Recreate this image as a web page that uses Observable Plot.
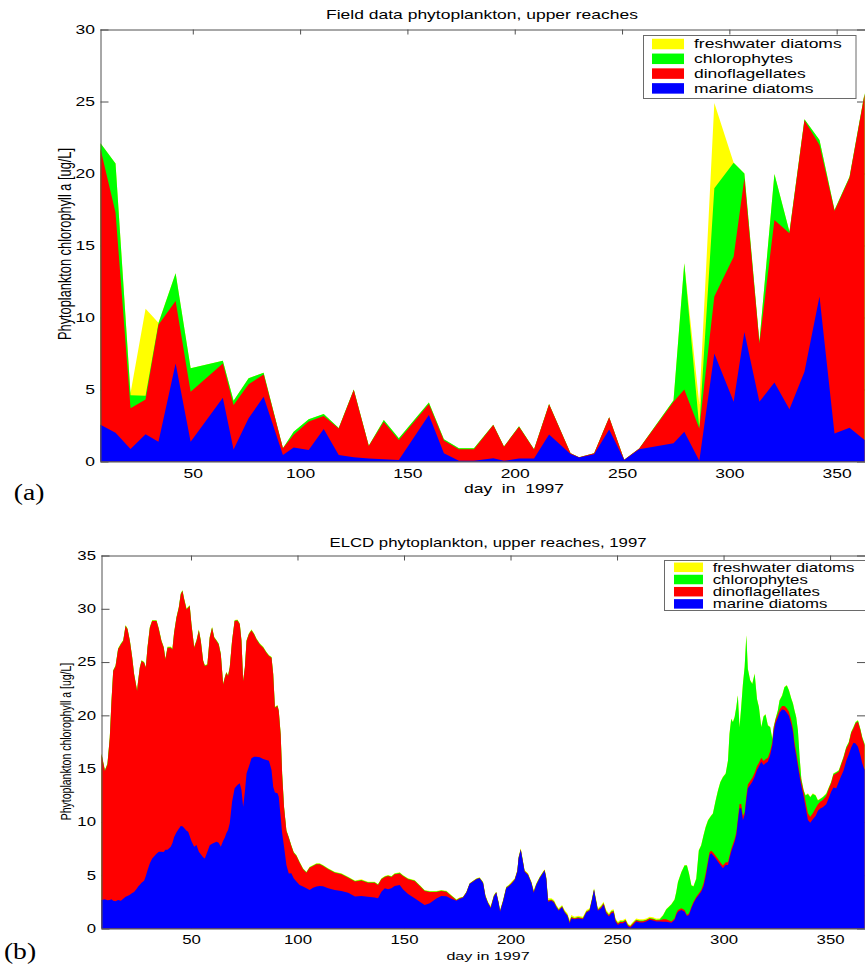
<!DOCTYPE html>
<html><head><meta charset="utf-8">
<script src="https://cdn.jsdelivr.net/npm/d3@7"></script>
<script src="https://cdn.jsdelivr.net/npm/@observablehq/plot@0.6"></script>
<style>
html,body{margin:0;padding:0;background:#fff;}
#fig{position:relative;width:865px;height:965px;overflow:hidden;background:#fff;}
#fig svg{position:absolute;left:0;}
</style></head><body><div id="fig"></div>
<script>
// ---------- series / labels ----------
const seriesNames = ["freshwater diatoms", "chlorophytes", "dinoflagellates", "marine diatoms"];
const seriesColors = ["#ffff00", "#00ff00", "#ff0000", "#0000ff"];
const dayTicks = [50, 100, 150, 200, 250, 300, 350];
const fieldTicksY = [0, 5, 10, 15, 20, 25, 30];
const elcdTicksY = [0, 5, 10, 15, 20, 25, 30, 35];

// ---------- (a) field data ----------
const fieldDays = [7, 14, 21, 28, 34, 42, 49, 64, 69, 76, 83, 92, 97, 104, 111, 118, 125, 132, 139, 146, 160, 167, 174, 181, 190, 195, 202, 209, 216, 226, 230, 237, 244, 251, 258, 274, 279, 286, 293, 302, 307, 314, 321, 328, 335, 342, 349, 356, 363];
const fieldMarine = [2.55, 2.0, 0.87, 1.9, 1.38, 6.8, 1.38, 4.43, 0.84, 3.0, 4.5, 0.45, 0.98, 0.8, 2.26, 0.45, 0.29, 0.2, 0.15, 0.11, 3.23, 0.57, 0.05, 0.05, 0.22, 0.05, 0.2, 0.2, 1.88, 0.52, 0.27, 0.5, 2.23, 0.1, 0.85, 1.26, 2.07, 0.05, 7.5, 4.15, 9.0, 4.15, 5.48, 3.62, 6.24, 11.45, 1.95, 2.35, 1.5];
const fieldDino = [19.15, 15.3, 2.83, 2.4, 8.12, 4.35, 3.47, 2.37, 3.08, 2.36, 1.55, 0.47, 0.87, 1.97, 0.9, 1.85, 4.68, 0.88, 2.61, 1.39, 0.77, 0.88, 0.8, 0.8, 2.31, 0.98, 2.22, 0.64, 2.09, 0.05, 0.02, 0.07, 0.84, 0.02, 0.05, 2.89, 2.93, 2.25, 3.95, 10.07, 10.67, 4.05, 11.29, 12.23, 17.46, 10.53, 15.45, 17.35, 24.0];
const fieldChloro = [0.4, 3.4, 0.9, 0.27, 0.1, 1.92, 1.62, 0.2, 0.3, 0.42, 0.12, 0, 0.22, 0.16, 0.14, 0.02, 0.03, 0.02, 0.12, 0.11, 0.1, 0.1, 0.07, 0.07, 0.02, 0.02, 0.02, 0.01, 0.02, 0, 0, 0, 0, 0, 0, 0.1, 8.76, 0.05, 7.52, 6.53, 0.33, 0.12, 3.2, 0.11, 0.06, 0.35, 0.07, 0.08, 0.07];
const fieldFresh = [0, 0, 0.15, 6.03, 0.04, 0, 0, 0, 0, 0, 0, 0, 0, 0, 0, 0, 0, 0, 0, 0, 0, 0, 0, 0, 0, 0, 0, 0, 0, 0, 0, 0, 0, 0, 0, 0, 0, 1.65, 5.93, 0, 0, 0, 0, 0, 0, 0, 0, 0, 0];

// ---------- (b) ELCD model ----------
const elcdDays = [
 8.0, 9.6, 10.8, 11.9, 12.7, 13.5, 14.6, 15.8, 17.1, 18.2,
 19.3, 20.2, 21.3, 22.4, 23.3, 24.7, 25.2, 26.0, 26.8, 28.0,
 28.8, 29.6, 30.7, 31.8, 33.8, 34.9, 36.1, 37.2, 38.0, 39.0,
 40.5, 41.3, 42.1, 43.2, 44.3, 45.2, 46.0, 46.8, 47.9, 48.7,
 49.4, 50.2, 51.5, 52.6, 53.7, 54.6, 55.7, 56.5, 57.7, 58.8,
 59.9, 60.9, 62.0, 63.0, 64.0, 65.1, 65.9, 66.6, 67.4, 68.2,
 69.3, 70.5, 71.8, 72.9, 73.7, 74.5, 75.3, 76.1, 77.2, 78.4,
 79.6, 80.7, 82.3, 83.9, 85.4, 86.6, 87.8, 88.6, 89.4, 90.6,
 91.2, 92.1, 92.8, 93.7, 94.8, 95.9, 97.1, 98.2, 99.5, 101.0,
 102.6, 104.2, 105.7, 107.3, 108.9, 110.4, 112.0, 114.4, 117.5, 120.6,
 123.8, 127.0,
 130.0, 133.1, 136.2, 137.8, 139.4, 141.0, 142.5, 144.1, 145.6, 148.0,
 149.5, 151.9, 155.0, 157.4, 159.7, 162.1, 165.2, 167.5, 169.9, 172.2,
 174.6, 176.1, 177.7, 179.3, 180.8, 182.4, 184.0, 185.5, 187.1, 188.2,
 189.4, 190.7, 192.2, 193.3, 194.4, 195.1, 196.5, 198.0, 199.1, 200.4,
 202.0, 203.2, 203.8, 204.8, 205.5, 206.6, 208.2, 209.8, 210.9, 212.1,
 213.7, 215.2, 216.0, 216.8, 217.6, 219.2, 220.4, 221.5, 222.6, 224.2,
 225.4, 226.7, 227.8, 228.5, 230.1, 231.7, 234.0, 235.6, 237.1, 238.2,
 239.2, 239.8, 241.0,
 242.6, 243.7, 244.9, 246.2, 247.3, 248.4, 249.3, 250.4, 251.5, 252.8,
 254.0, 255.1, 256.2, 257.5, 259.0, 260.6, 262.2, 263.7, 265.3, 266.9,
 268.4, 270.0, 271.6, 273.1, 275.5, 277.0, 277.8, 278.6, 280.2, 281.7,
 282.8, 283.8, 284.9, 285.9, 287.2, 288.4, 289.5, 290.6, 291.6, 292.7,
 293.4, 294.2, 295.0, 296.3, 297.4, 298.5, 299.7, 301.0, 302.1, 302.8,
 303.6, 304.4, 305.2, 306.0, 306.7, 307.5, 308.3, 309.1, 309.9, 310.7,
 311.4, 312.5, 313.5, 314.6, 315.7, 316.6, 317.7, 318.8, 319.7, 320.8,
 321.9, 322.9, 323.5, 324.4, 325.5, 326.3, 327.5, 328.6, 329.7, 330.7,
 331.8, 332.6, 333.3, 334.1, 334.9, 335.7, 336.5, 337.6, 338.5, 339.6,
 340.7, 341.9, 343.2, 344.3, 345.4, 346.6, 348.2, 349.5, 350.5, 351.6,
 352.9, 354.1, 355.2, 356.3, 357.6, 358.8, 359.9, 361.0, 362.0, 363.1,
 364.2, 365.1, 366.2];
const elcdMarine = [
 2.67, 2.74, 2.64, 2.67, 2.74, 2.61, 2.55, 2.67, 2.61, 2.8,
 2.99, 3.05, 3.17, 3.33, 3.42, 3.77, 3.93, 4.11, 4.3, 4.49,
 4.93, 5.46, 6.12, 6.58, 7.02, 7.21, 7.21, 7.18, 7.4, 7.4,
 7.68, 8.02, 8.59, 9.02, 9.37, 9.62, 9.59, 9.43, 9.18, 9.09,
 8.68, 8.21, 7.68, 7.84, 7.21, 6.96, 6.68, 6.58, 7.21, 7.8,
 7.96, 8.05, 8.15, 8.05, 7.68, 8.24, 8.55, 8.93, 9.24, 9.87,
 11.9, 13.15, 13.47, 13.62, 13.0, 11.43, 12.84, 14.56, 15.19, 15.97,
 16.12, 16.12, 16.06, 15.9, 15.81, 15.75, 14.87, 13.31, 12.75, 12.68,
 12.37, 10.49, 8.93, 7.68, 5.96, 5.15, 5.18, 4.71, 4.4, 4.08,
 3.93, 3.77, 3.61, 3.83, 3.93, 3.99, 3.96, 3.77, 3.61, 3.52,
 3.36, 3.0,
 3.05, 2.99, 2.92, 2.83, 3.46, 3.77, 3.68, 3.77, 3.99, 4.08,
 3.68, 3.24, 2.83, 2.52, 2.2, 2.36, 2.81, 3.05, 3.02, 2.8,
 2.61, 2.77, 2.89, 3.36, 4.17, 4.39, 4.61, 4.71, 4.24, 2.99,
 2.36, 1.89, 2.99, 3.36, 2.36, 1.58, 2.52, 3.77, 3.93, 4.17,
 4.55, 5.33, 6.58, 7.37, 6.58, 5.33, 5.02, 4.24, 3.36, 4.08,
 4.71, 5.18, 5.43, 4.61, 2.52, 2.61, 2.42, 1.99, 1.67, 1.99,
 1.49, 1.17, 0.48, 0.95, 0.86, 0.95, 0.86, 1.49, 1.67, 2.61,
 3.61, 2.92, 1.67,
 1.9, 2.22, 1.44, 1.12, 1.44, 1.5, 0.65, 0.34, 0.5, 0.5,
 0.65, 0.2, 0.08, 0.34, 0.65, 0.56, 0.56, 0.65, 0.81, 0.75,
 0.65, 0.65, 0.64, 0.64, 0.55, 0.8, 1.27, 1.58, 1.74, 1.58,
 1.17, 1.27, 1.89, 2.36, 2.83, 3.14, 3.46, 3.93, 4.86, 6.12,
 6.9, 7.05, 6.9, 6.58, 6.27, 5.96, 5.65, 5.96, 5.96, 6.58,
 7.21, 7.68, 8.15, 8.77, 10.02, 11.28, 11.28, 10.18, 10.65, 12.06,
 13.15, 13.47, 13.78, 14.25, 14.87, 15.19, 15.65, 15.34, 15.5, 15.65,
 16.27, 17.2, 18.4, 19.25, 19.8, 20.25, 20.56, 20.5, 20.25, 19.94,
 19.17, 18.38, 17.11, 16.18, 15.19, 14.25, 13.4, 12.37, 11.37, 10.18,
 9.93, 10.24, 10.56, 11.04, 11.26, 11.37, 11.67, 12.3, 12.84, 13.23,
 13.15, 13.78, 14.31, 14.81, 15.73, 16.36, 16.98, 17.42, 17.36, 17.05,
 16.28, 15.5, 14.87];
const elcdDino = [
 13.67, 12.03, 12.76, 15.23, 18.6, 21.55, 22.05, 23.53, 24.05, 24.17,
 25.39, 25.02, 23.8, 22.07, 20.42, 18.51, 19.27, 20.36, 20.8, 20.45,
 19.54, 20.89, 22.1, 22.27, 21.83, 20.86, 19.76, 19.17, 17.85, 18.95,
 18.67, 18.17, 19.16, 20.14, 20.73, 21.73, 22.07, 21.45, 20.76, 21.01,
 21.58, 20.33, 18.67, 19.13, 20.76, 20.01, 18.42, 18.05, 17.51, 19.48,
 20.26, 19.23, 18.82, 18.61, 18.04, 14.66, 14.98, 15.07, 14.45, 14.6,
 15.07, 15.7, 15.43, 14.92, 13.97, 11.77, 11.63, 12.41, 12.41, 12.0,
 11.48, 11.01, 10.6, 10.45, 10.07, 9.81, 10.53, 10.53, 7.97, 8.19,
 8.03, 7.71, 5.53, 3.65, 3.18, 3.37, 2.56, 2.4, 2.4, 2.09,
 1.62, 1.46, 2.09, 2.03, 2.09, 2.03, 1.9, 1.78, 1.62, 1.56,
 1.4, 1.4,
 1.46, 1.3, 1.37, 1.25, 1.15, 1.06, 1.24, 1.06, 1.09, 1.09,
 1.24, 1.37, 1.62, 1.46, 1.31, 1.06, 0.61, 0.46, 0.43, 0.24,
 0.05, 0.06, 0.04, 0.04, 0.03, 0.04, 0.04, 0.03, 0.06, 0.06,
 0.06, 0.07, 0.06, 0.04, 0.06, 0.06, 0.06, 0.06, 0.06, 0.07,
 0.06, 0.06, 0.06, 0.06, 0.06, 0.06, 0.06, 0.06, 0.08, 0.06,
 0.06, 0.06, 0.05, 0.08, 0.1, 0.07, 0.08, 0.07, 0.07, 0.07,
 0.08, 0.08, 0.1, 0.1, 0.08, 0.08, 0.08, 0.08, 0.07, 0.07,
 0.06, 0.07, 0.07,
 0.12, 0.12, 0.12, 0.12, 0.12, 0.12, 0.12, 0.12, 0.12, 0.12,
 0.12, 0.1, 0.1, 0.12, 0.12, 0.12, 0.12, 0.12, 0.12, 0.12,
 0.12, 0.12, 0.22, 0.22, 0.1, 0.15, 0.15, 0.15, 0.15, 0.16,
 0.1, 0.15, 0.16, 0.16, 0.16, 0.16, 0.15, 0.3, 0.32, 0.25,
 0.25, 0.25, 0.25, 0.25, 0.25, 0.25, 0.25, 0.25, 0.25, 0.25,
 0.25, 0.25, 0.25, 0.25, 0.25, 0.4, 0.4, 0.37, 0.25, 0.37,
 0.36, 0.36, 0.36, 0.37, 0.38, 0.37, 0.38, 0.38, 0.37, 0.38,
 0.38, 0.3, 0.3, 0.3, 0.3, 0.31, 0.32, 0.38, 0.41, 0.41,
 0.38, 0.39, 0.41, 0.41, 0.37, 0.37, 0.38, 0.47, 0.53, 0.63,
 0.56, 0.57, 0.72, 0.63, 0.64, 0.69, 0.76, 0.85, 0.78, 1.17,
 1.41, 0.92, 1.03, 1.16, 1.16, 1.0, 1.33, 1.35, 1.89, 2.36,
 2.34, 2.33, 2.33];
const elcdChloro = [
 0.05, 0.05, 0.05, 0.05, 0.05, 0.05, 0.05, 0.05, 0.05, 0.05,
 0.05, 0.05, 0.05, 0.05, 0.05, 0.05, 0.05, 0.05, 0.05, 0.05,
 0.05, 0.05, 0.05, 0.05, 0.05, 0.05, 0.05, 0.05, 0.05, 0.05,
 0.05, 0.05, 0.05, 0.05, 0.05, 0.05, 0.05, 0.05, 0.05, 0.05,
 0.05, 0.05, 0.05, 0.05, 0.05, 0.05, 0.05, 0.05, 0.05, 0.05,
 0.05, 0.05, 0.05, 0.05, 0.05, 0.05, 0.05, 0.05, 0.05, 0.05,
 0.05, 0.05, 0.05, 0.05, 0.05, 0.05, 0.05, 0.05, 0.05, 0.05,
 0.05, 0.05, 0.05, 0.05, 0.05, 0.05, 0.05, 0.05, 0.05, 0.05,
 0.05, 0.05, 0.05, 0.05, 0.05, 0.05, 0.05, 0.05, 0.05, 0.05,
 0.05, 0.05, 0.05, 0.05, 0.05, 0.05, 0.05, 0.05, 0.05, 0.05,
 0.05, 0.05,
 0.05, 0.05, 0.05, 0.05, 0.05, 0.05, 0.05, 0.05, 0.05, 0.05,
 0.05, 0.05, 0.05, 0.05, 0.05, 0.05, 0.05, 0.05, 0.05, 0.05,
 0.04, 0.04, 0.03, 0.03, 0.02, 0.03, 0.03, 0.03, 0.04, 0.04,
 0.04, 0.04, 0.04, 0.03, 0.04, 0.04, 0.04, 0.04, 0.04, 0.04,
 0.04, 0.04, 0.04, 0.04, 0.04, 0.04, 0.04, 0.04, 0.05, 0.04,
 0.04, 0.04, 0.04, 0.05, 0.05, 0.04, 0.05, 0.04, 0.04, 0.04,
 0.05, 0.05, 0.05, 0.05, 0.05, 0.05, 0.05, 0.05, 0.04, 0.04,
 0.04, 0.04, 0.04,
 0.06, 0.06, 0.06, 0.06, 0.06, 0.06, 0.06, 0.06, 0.06, 0.06,
 0.06, 0.05, 0.05, 0.06, 0.06, 0.06, 0.06, 0.06, 0.06, 0.06,
 0.06, 0.08, 0.36, 0.92, 1.6, 1.74, 1.99, 2.61, 3.39, 4.17,
 4.64, 3.71, 1.98, 1.42, 1.67, 4.02, 4.18, 4.49, 4.33, 3.76,
 3.2, 3.27, 3.61, 5.18, 6.42, 7.52, 8.3, 8.3, 9.55, 11.43,
 12.2, 11.42, 11.42, 11.75, 11.59, 7.19, 9.09, 12.4, 13.62, 15.06,
 10.84, 9.44, 8.81, 9.27, 6.27, 5.21, 2.86, 4.17, 4.21, 3.01,
 2.24, 0.25, 0.19, 0.1, 0.35, 0.83, 0.97, 1.76, 2.14, 1.98,
 2.0, 2.31, 2.93, 3.23, 3.01, 1.46, 0.26, 0.11, 0.58, 1.82,
 1.83, 1.82, 1.2, 0.34, 0.25, 0.26, 0.2, 0.11, 0.11, 0.11,
 0.09, 0.12, 0.11, 0.11, 0.11, 0.11, 0.11, 0.12, 0.11, 0.1,
 0.1, 0.11, 0.11];
const elcdFresh = [
 0.05, 0.05, 0.05, 0.05, 0.05, 0.05, 0.05, 0.05, 0.05, 0.05,
 0.05, 0.05, 0.05, 0.05, 0.05, 0.05, 0.05, 0.05, 0.05, 0.05,
 0.05, 0.05, 0.05, 0.05, 0.05, 0.05, 0.05, 0.05, 0.05, 0.05,
 0.05, 0.05, 0.05, 0.05, 0.05, 0.05, 0.05, 0.05, 0.05, 0.05,
 0.05, 0.05, 0.05, 0.05, 0.05, 0.05, 0.05, 0.05, 0.05, 0.05,
 0.05, 0.05, 0.05, 0.05, 0.05, 0.05, 0.05, 0.05, 0.05, 0.05,
 0.05, 0.05, 0.05, 0.05, 0.05, 0.05, 0.05, 0.05, 0.05, 0.05,
 0.05, 0.05, 0.05, 0.05, 0.05, 0.05, 0.05, 0.05, 0.05, 0.05,
 0.05, 0.05, 0.05, 0.05, 0.05, 0.05, 0.05, 0.05, 0.05, 0.05,
 0.05, 0.05, 0.05, 0.05, 0.05, 0.05, 0.05, 0.05, 0.05, 0.05,
 0.05, 0.05,
 0.05, 0.05, 0.05, 0.05, 0.05, 0.05, 0.05, 0.05, 0.05, 0.05,
 0.05, 0.05, 0.05, 0.05, 0.05, 0.05, 0.05, 0.05, 0.05, 0.05,
 0.04, 0.05, 0.03, 0.03, 0.02, 0.03, 0.03, 0.03, 0.05, 0.05,
 0.06, 0.11, 0.05, 0.03, 0.06, 0.06, 0.05, 0.06, 0.05, 0.11,
 0.06, 0.06, 0.06, 0.05, 0.06, 0.06, 0.06, 0.05, 0.12, 0.06,
 0.05, 0.05, 0.03, 0.12, 0.16, 0.11, 0.12, 0.1, 0.11, 0.1,
 0.12, 0.12, 0.17, 0.17, 0.12, 0.12, 0.12, 0.12, 0.11, 0.11,
 0.06, 0.11, 0.11,
 0.12, 0.12, 0.12, 0.12, 0.12, 0.12, 0.12, 0.12, 0.12, 0.12,
 0.12, 0.13, 0.1, 0.12, 0.12, 0.12, 0.12, 0.12, 0.12, 0.12,
 0.12, 0.1, 0.05, 0.05, 0.05, 0.05, 0.05, 0.05, 0.05, 0.05,
 0.05, 0.05, 0.05, 0.05, 0.05, 0.05, 0.05, 0.05, 0.05, 0.05,
 0.05, 0.05, 0.05, 0.05, 0.05, 0.05, 0.05, 0.05, 0.05, 0.05,
 0.05, 0.05, 0.05, 0.05, 0.05, 0.05, 0.05, 0.05, 0.05, 0.05,
 0.05, 0.05, 0.05, 0.05, 0.05, 0.05, 0.05, 0.05, 0.05, 0.05,
 0.05, 0.05, 0.05, 0.05, 0.05, 0.05, 0.05, 0.05, 0.05, 0.05,
 0.05, 0.05, 0.05, 0.05, 0.05, 0.05, 0.05, 0.05, 0.05, 0.05,
 0.05, 0.05, 0.05, 0.05, 0.05, 0.05, 0.05, 0.05, 0.05, 0.05,
 0.05, 0.05, 0.05, 0.05, 0.05, 0.05, 0.05, 0.05, 0.05, 0.05,
 0.05, 0.05, 0.05];

// ---------- build cumulative table (bottom to top: marine, dino, chloro, fresh) ----------
function makeRows(days, m, d, c, f) {
  return days.map((day, i) => {
    const c1 = m[i], c2 = c1 + d[i], c3 = c2 + c[i], c4 = c3 + f[i];
    return {day, c1, c2, c3, c4};
  });
}
const fieldRows = makeRows(fieldDays, fieldMarine, fieldDino, fieldChloro, fieldFresh);
const elcdRows = makeRows(elcdDays, elcdMarine, elcdDino, elcdChloro, elcdFresh);

const FONT = "'Liberation Sans', Arial, Helvetica, sans-serif";
const SX = 1.4; // horizontal stretch of the original figure's glyphs
const AXC = "#505050";

function panel({rows, xDomain, yDomain, yTicks, width, height, mt, mb, ml, mr, fontSize, padX}) {
  const W = width - ml - mr, H = height - mt - mb;
  const keys = ["c4", "c3", "c2", "c1"];
  const svg = Plot.plot({
    width, height, marginTop: mt, marginBottom: mb, marginLeft: ml, marginRight: mr,
    style: {fontFamily: FONT, fontSize: fontSize + "px", color: "#000", background: "transparent"},
    x: {domain: xDomain},
    y: {domain: yDomain},
    marks: [
      Plot.ruleX(dayTicks, {x: d => d, insetBottom: H - 5, stroke: AXC}),
      Plot.ruleX(dayTicks, {x: d => d, insetTop: H - 5, stroke: AXC}),
      Plot.ruleY(yTicks, {y: d => d, insetRight: W - 8, stroke: AXC}),
      Plot.ruleY(yTicks, {y: d => d, insetLeft: W - 8, stroke: AXC}),
      ...keys.map((k, i) => Plot.areaY(rows, {x: "day", y1: 0, y2: k, fill: seriesColors[i], curve: "linear"})),
      Plot.ruleY([yDomain[0], yDomain[1]], {y: d => d, stroke: AXC}),
      Plot.ruleX([xDomain[0]], {x: d => d, stroke: AXC}),
      Plot.axisX({ticks: dayTicks, tickSize: 0, tickPadding: padX, label: null, anchor: "bottom"}),
      Plot.axisY({ticks: yTicks, tickSize: 0, tickPadding: 6, label: null, anchor: "left"})
    ]
  });
  svg.querySelectorAll('g[aria-label$="tick label"] text').forEach(t => {
    const tr = t.getAttribute("transform") || "";
    t.setAttribute("transform", tr + ` scale(${SX},1)`);
  });
  return svg;
}

const fig = document.getElementById("fig");
const topSvg = panel({rows: fieldRows, xDomain: [7, 363.2], yDomain: [0, 30], yTicks: fieldTicksY,
  width: 865, height: 485, mt: 29.5, mb: 23.5, ml: 100.5, mr: 0, fontSize: 12.5, padX: 7});
topSvg.style.top = "0px";
fig.appendChild(topSvg);
const botSvg = panel({rows: elcdRows, xDomain: [8, 366.4], yDomain: [0, 35], yTicks: elcdTicksY,
  width: 865, height: 440, mt: 35.5, mb: 31.5, ml: 101.5, mr: 0, fontSize: 12, padX: 6.5});
botSvg.style.top = "520px";
fig.appendChild(botSvg);

// ---------- overlay: titles, labels, legends ----------
const NS = "http://www.w3.org/2000/svg";
const ov = document.createElementNS(NS, "svg");
ov.setAttribute("width", 865); ov.setAttribute("height", 965);
ov.style.cssText = "position:absolute;left:0;top:0;pointer-events:none";
fig.appendChild(ov);
function addText(str, x, y, size, o = {}) {
  const t = document.createElementNS(NS, "text");
  t.textContent = str;
  t.setAttribute("text-anchor", o.anchor || "middle");
  t.setAttribute("dy", "0.35em");
  t.setAttribute("font-family", o.family || FONT);
  t.setAttribute("font-size", size);
  t.setAttribute("fill", "#000");
  t.setAttribute("transform", `translate(${x},${y}) scale(${o.sx || SX},1)` + (o.rotate ? ` rotate(${o.rotate})` : ""));
  t.setAttributeNS("http://www.w3.org/XML/1998/namespace", "xml:space", "preserve");
  t.style.whiteSpace = "pre";
  ov.appendChild(t);
}
function addRect(x, y, w, h, fill, stroke) {
  const r = document.createElementNS(NS, "rect");
  r.setAttribute("x", x); r.setAttribute("y", y); r.setAttribute("width", w); r.setAttribute("height", h);
  r.setAttribute("fill", fill);
  if (stroke) { r.setAttribute("stroke", stroke); r.setAttribute("stroke-width", 1); }
  ov.appendChild(r);
}
function legend(x, y, w, h, sx, sw, sh, tx, rows, size) {
  addRect(x, y, w, h, "#fff", "#6a6a6a");
  seriesNames.forEach((name, i) => {
    addRect(sx, rows[i] - sh / 2, sw, sh, seriesColors[i]);
    addText(name, tx, rows[i], size, {anchor: "start"});
  });
}

addText("Field data phytoplankton, upper reaches", 482, 15, 12.5);
addText("day  in  1997", 514, 489, 12.5);
addText("Phytoplankton chlorophyll a [ug/L]", 65, 244, 12.8, {rotate: -90});
addText("(a)", 29, 492, 24, {family: "'Liberation Serif', 'Times New Roman', serif", sx: 1.15});
legend(643.5, 35.5, 212.5, 63, 652, 32, 10.5, 694, [44, 58.8, 73.6, 88.4], 12.5);

addText("ELCD phytoplankton, upper reaches, 1997", 488, 543, 12);
addText("day in 1997", 488, 956, 11.5);
addText("Phytoplankton chlorophyll a [ug/L]", 66, 741.5, 10.5, {rotate: -90});
addText("(b)", 20, 951, 24, {family: "'Liberation Serif', 'Times New Roman', serif", sx: 1.15});
legend(664.5, 560.5, 210, 50, 674, 29, 9.5, 712.7, [567.3, 579.5, 591.7, 603.9], 12);
</script></body></html>
